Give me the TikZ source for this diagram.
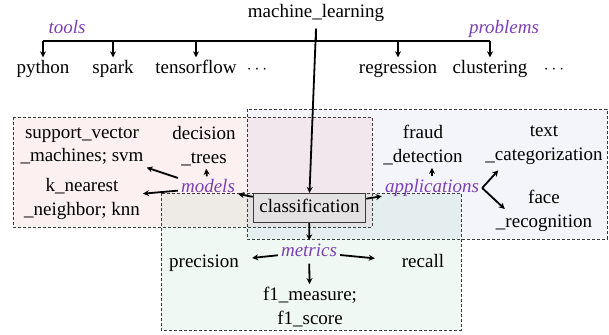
\documentclass[tikz,border=0pt]{standalone}
\usepackage{fontspec}
\setmainfont{LiberationSerif-Regular.ttf}[
  ItalicFont=LiberationSerif-Italic.ttf,
  BoldFont=LiberationSerif-Bold.ttf]
\usepackage{xcolor}
\usetikzlibrary{arrows.meta, positioning}
\definecolor{relpurple}{HTML}{7B3FB5}
\definecolor{modelsred}{HTML}{E22929}
\definecolor{appsblue}{HTML}{6270B8}
\definecolor{metricsgreen}{HTML}{299B62}
\definecolor{boxline}{HTML}{3A3A3A}

\begin{document}
\begin{tikzpicture}[
    x=1pt, y=-1pt,
    term/.style={
      font=\fontsize{19}{23.5}\selectfont,
      inner sep=3pt, text height=13pt, text depth=4pt
    },
    leafterm/.style={term, minimum width=96pt},
    twoline/.style={
      font=\fontsize{19}{23.5}\selectfont,
      inner sep=3pt, align=center
    },
    mlroot/.style={term, inner sep=7pt},
    relation/.style={
      font=\fontsize{19}{23.5}\selectfont\itshape, text=relpurple,
      inner sep=3pt, text height=13pt, text depth=4pt
    },
    focusterm/.style={term, draw=boxline, line width=1.2pt, inner sep=6pt},
    grp/.style={draw=boxline, dash pattern=on 3pt off 2pt, line width=0.9pt, fill opacity=0.07},
    arrow/.style={-{Stealth[length=6pt,width=6pt]}, line width=1.8pt},
    treeline/.style={line width=2pt}
  ]

    \useasboundingbox (0,0) rectangle (609,334);

    % ── Group boxes (drawn first, translucent) ───────────────────────────
    \path[grp, fill=modelsred]    (13,117)  rectangle (372,227);
    \path[grp, fill=appsblue]     (247,109) rectangle (607,239);
    \path[grp, fill=metricsgreen] (161,193) rectangle (461,330);

    % ── Root and top row ─────────────────────────────────────────────────
    \node[mlroot] (ml) at (316,13) {machine\_learning};
    \node[relation] (tools)    at (67,29)  {tools};
    \node[relation] (problems) at (504,29) {problems};

    \node[term] (python)     at (43,69)  {python};
    \node[term] (spark)      at (113,69) {spark};
    \node[term] (tensorflow) at (196,69) {tensorflow};
    \node[term] (tdots)      at (257,69) {$\cdots$};
    \node[term] (regression) at (398,69) {regression};
    \node[term] (clustering) at (490,69) {clustering};
    \node[term] (pdots)      at (554,69) {$\cdots$};

    % ── Models group ─────────────────────────────────────────────────────
    \node[twoline] (svm)    at (82,146)  {support\_vector\\\_machines; svm};
    \node[twoline] (dtrees) at (204,146) {decision\\\_trees};
    \node[twoline] (knn)    at (82,199)  {k\_nearest\\\_neighbor; knn};
    \node[relation] (models) at (208,188) {models};

    % ── Centre node ──────────────────────────────────────────────────────
    \node[focusterm] (classification) at (309.5,208) {classification};

    % ── Applications group ───────────────────────────────────────────────
    \node[twoline] (fraud)   at (423,145) {fraud\\\_detection};
    \node[twoline] (textcat) at (544,145) {text\\\_categorization};
    \node[twoline] (face)    at (544,211) {face\\\_recognition};
    \node[relation] (applications) at (432,188) {applications};

    % ── Metrics group ────────────────────────────────────────────────────
    \node[relation] (metrics)   at (309,252) {metrics};
    \node[leafterm] (precision) at (204,263) {precision};
    \node[leafterm] (recall)    at (423,263) {recall};
    \node[twoline]  (f1)        at (310,307) {f1\_measure;\\f1\_score};

    % ── Tree: root -> tools / problems ───────────────────────────────────
    \coordinate (bar) at (316,41);
    \draw[treeline] (python.north |- bar) -- (clustering.north |- bar);
    \draw[treeline] (ml.south) -- (ml.south |- bar);
    \foreach \c in {python, spark, tensorflow, regression, clustering}
      \draw[arrow] (\c.north |- bar) -- (\c.north);

    \draw[arrow] (ml.south) -- (classification.north);

    % ── Arrows: classification -> relations ──────────────────────────────
    \draw[arrow] (classification) -- (models);
    \draw[arrow] (classification) -- (applications);
    \draw[arrow] (classification) -- (metrics);

    % ── Arrows: relations -> terms ───────────────────────────────────────
    \draw[arrow] (models) -- (svm);
    \draw[arrow] (models) -- (dtrees);
    \draw[arrow] (models) -- (knn);

    \draw[arrow] (applications.north) -- (applications.north |- fraud.south);
    \draw[arrow] (applications.east) -- ([xshift=16pt,yshift=-3pt]textcat.south west);
    \draw[arrow] (applications.east) -- ([xshift=12pt,yshift=2pt]face.west);

    \draw[arrow] (metrics) -- (precision);
    \draw[arrow] (metrics) -- (recall);
    \draw[arrow] (metrics) -- (f1);

  \end{tikzpicture}
\end{document}
